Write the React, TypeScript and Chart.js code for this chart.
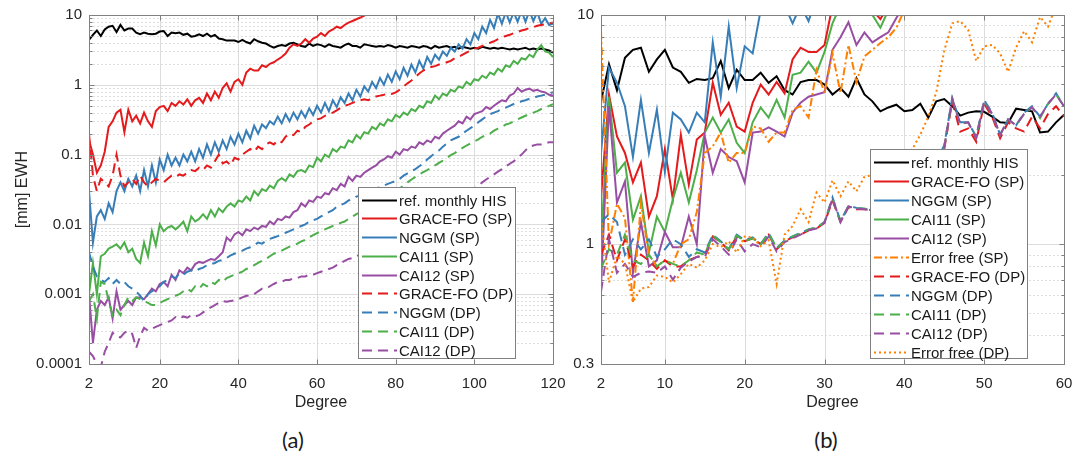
import React, { useEffect, useRef } from 'react';
import { Chart, registerables } from 'chart.js';

Chart.register(...registerables);

const FONT = '"Liberation Sans", Arial, Helvetica, sans-serif';
Chart.defaults.font.family = FONT;

// ---------------- Panel (a) data: degree 2..120 ----------------
const A_START_DEGREE = 2;
const A_X_TICKS = [2, 20, 40, 60, 80, 100, 120];
const A_Y_TICKS = [0.0001, 0.001, 0.01, 0.1, 1, 10];
const A_Y_LABELS = ['0.0001', '0.001', '0.01', '0.1', '1', '10'];

const A_REF = [
  4.4, 5.2, 6.0, 5.0, 6.2, 6.8, 7.0, 5.7, 7.2, 6.0,
  6.4, 6.4, 5.6, 5.3, 5.6, 5.4, 5.3, 5.4, 5.8, 5.9,
  5.0, 5.6, 5.5, 5.6, 5.2, 5.4, 4.9, 5.0, 5.3, 5.0,
  5.4, 4.9, 5.2, 4.6, 4.5, 4.3, 4.3, 4.3, 4.1, 4.4,
  4.1, 3.9, 4.5, 4.2, 4.0, 3.9, 3.6, 3.4, 3.6, 3.7,
  3.6, 3.9, 4.0, 3.8, 3.6, 3.5, 3.9, 3.6, 3.8, 3.7,
  3.5, 3.8, 3.6, 3.5, 3.4, 3.7, 3.9, 3.6, 3.6, 3.4,
  3.8, 3.7, 3.6, 3.5, 3.6, 3.5, 3.7, 3.6, 3.4, 3.6,
  3.5, 3.4, 3.6, 3.5, 3.4, 3.6, 3.5, 3.3, 3.6, 3.4,
  3.5, 3.6, 3.4, 3.5, 3.3, 3.5, 3.4, 3.3, 3.4, 3.3,
  3.5, 3.4, 3.3, 3.4, 3.3, 3.4, 3.3, 3.2, 3.3, 3.2,
  3.3, 3.4, 3.2, 3.3, 3.2, 3.3, 3.2, 3.1, 2.9,
];
const A_GRACE_SP = [
  0.16, 0.1, 0.055, 0.07, 0.11, 0.25, 0.3, 0.4, 0.44, 0.21,
  0.44, 0.3, 0.36, 0.28, 0.4, 0.3, 0.25, 0.42, 0.48, 0.5,
  0.42, 0.55, 0.5, 0.58, 0.52, 0.62, 0.5, 0.6, 0.65, 0.55,
  0.75, 0.6, 0.8, 0.65, 0.9, 1.05, 0.8, 1.1, 1.2, 1.0,
  1.5, 1.7, 1.6, 1.6, 1.9, 1.8, 2.0, 2.1, 2.3, 2.5,
  2.8, 3.4, 3.8, 3.6, 3.9, 4.5, 4.0, 4.6, 4.9, 5.5,
  5.0, 5.8, 6.2, 6.8, 6.5, 7.2, 7.8, 8.2, 8.7, 9.2,
  9.8, 10.5, 11.2,
];
const A_NGGM_SP = [
  0.03, 0.0055, 0.013, 0.016, 0.012, 0.02, 0.015, 0.03, 0.04, 0.03,
  0.045, 0.035, 0.05, 0.03, 0.06, 0.035, 0.07, 0.04, 0.085, 0.06,
  0.1, 0.07, 0.09, 0.07, 0.1, 0.08, 0.11, 0.08, 0.12, 0.09,
  0.14, 0.1, 0.15, 0.11, 0.16, 0.12, 0.18, 0.14, 0.2, 0.15,
  0.22, 0.17, 0.26, 0.2, 0.27, 0.24, 0.3, 0.27, 0.35, 0.28,
  0.38, 0.3, 0.4, 0.32, 0.42, 0.34, 0.46, 0.37, 0.5, 0.4,
  0.55, 0.42, 0.6, 0.48, 0.66, 0.55, 0.75, 0.6, 0.85, 0.68,
  0.95, 0.8, 1.1, 0.9, 1.25, 1.0, 1.4, 1.1, 1.55, 1.2,
  1.75, 1.35, 1.95, 1.5, 2.2, 1.7, 2.5, 2.0, 2.7, 2.3,
  3.0, 2.6, 3.4, 3.0, 3.8, 3.3, 4.5, 3.8, 5.5, 4.5,
  6.8, 5.5, 8.5, 6.5, 10.5, 7.5, 11, 7.8, 11, 8,
  11.5, 8, 11.5, 8.2, 11, 7.5, 9, 7.2, 7.5,
];
const A_CAI11_SP = [
  0.001, 0.0028, 0.001, 0.0035, 0.0038, 0.0045, 0.0048, 0.0052, 0.0045, 0.0055,
  0.004, 0.0045, 0.0032, 0.0028, 0.0055, 0.0035, 0.008, 0.005, 0.01, 0.008,
  0.009, 0.0095, 0.0085, 0.0095, 0.011, 0.008, 0.013, 0.011, 0.012, 0.014,
  0.012, 0.016, 0.013, 0.017, 0.015, 0.018, 0.02, 0.018, 0.022, 0.021,
  0.025, 0.022, 0.03, 0.026, 0.032, 0.03, 0.036, 0.033, 0.042, 0.046,
  0.042, 0.052, 0.048, 0.058, 0.06, 0.056, 0.07, 0.066, 0.09, 0.08,
  0.1, 0.092, 0.12, 0.11, 0.13, 0.125, 0.16, 0.15, 0.19, 0.17,
  0.21, 0.2, 0.25, 0.23, 0.28, 0.26, 0.32, 0.3, 0.37, 0.34,
  0.4, 0.37, 0.45, 0.42, 0.5, 0.47, 0.58, 0.55, 0.7, 0.62,
  0.75, 0.7, 0.85, 0.8, 0.95, 0.9, 1.1, 1.0, 1.2, 1.15,
  1.35, 1.25, 1.5, 1.4, 1.7, 1.55, 1.9, 1.8, 2.2, 2.0,
  2.4, 2.3, 2.7, 2.5, 3.2, 3.7, 3.0, 2.9, 2.5,
];
const A_CAI12_SP = [
  0.001, 0.0002, 0.0006, 0.0008, 0.0007, 0.0009, 0.00045, 0.0011, 0.0006, 0.0007,
  0.0008, 0.0007, 0.0009, 0.0009, 0.00085, 0.001, 0.0012, 0.0011, 0.0014, 0.0015,
  0.0013, 0.0019, 0.0016, 0.0022, 0.002, 0.0024, 0.0022, 0.0027, 0.0029, 0.0028,
  0.003, 0.0032, 0.0031, 0.0035, 0.004, 0.0065, 0.0058, 0.0072, 0.0078, 0.007,
  0.0085, 0.008, 0.009, 0.0085, 0.0095, 0.0092, 0.011, 0.01, 0.012, 0.0115,
  0.013, 0.0125, 0.015, 0.016, 0.02, 0.018, 0.022, 0.021, 0.025, 0.024,
  0.028, 0.027, 0.033, 0.031, 0.038, 0.035, 0.048, 0.042, 0.05, 0.048,
  0.055, 0.06, 0.065, 0.07, 0.08, 0.085, 0.095, 0.09, 0.11, 0.1,
  0.12, 0.115, 0.13, 0.125, 0.15, 0.14, 0.16, 0.15, 0.18, 0.17,
  0.2, 0.22, 0.24, 0.26, 0.3, 0.28, 0.35, 0.32, 0.38, 0.4,
  0.42, 0.48, 0.45, 0.5, 0.55, 0.6, 0.58, 0.7, 0.75, 0.9,
  0.8, 0.85, 0.88, 0.82, 0.85, 0.8, 0.78, 0.72, 0.7,
];
const A_GRACE_DP = [
  0.2, 0.05, 0.03, 0.045, 0.04, 0.035, 0.05, 0.1, 0.05, 0.035,
  0.04, 0.045, 0.038, 0.05, 0.04, 0.035, 0.04, 0.045, 0.042, 0.04,
  0.045, 0.05, 0.048, 0.052, 0.05, 0.055, 0.06, 0.058, 0.065, 0.06,
  0.07, 0.065, 0.08, 0.1, 0.075, 0.08, 0.07, 0.09, 0.085, 0.1,
  0.11, 0.12, 0.11, 0.13, 0.12, 0.14, 0.15, 0.14, 0.16, 0.15,
  0.18, 0.2, 0.19, 0.22, 0.21, 0.25, 0.27, 0.3, 0.32, 0.33,
  0.36, 0.38, 0.4, 0.43, 0.47, 0.5, 0.52, 0.55, 0.58, 0.6,
  0.62, 0.6, 0.65, 0.68, 0.7, 0.72, 0.75, 0.74, 0.78, 0.85,
  0.95, 1.05, 1.15, 1.3, 1.45, 1.6, 1.7, 1.8, 1.85, 1.95,
  2.0, 2.1, 2.2, 2.4, 2.5, 2.7, 2.9, 3.1, 3.3, 3.4,
  3.6, 3.8, 4.0, 4.2, 4.5, 4.8, 5.0, 5.2, 5.5, 5.7,
  6.0, 6.2, 6.5, 6.7, 7.0, 7.2, 7.4, 7.6, 7.8,
];
const A_NGGM_DP = [
  0.004, 0.0025, 0.0018, 0.0016, 0.0015, 0.0017, 0.0014, 0.0016, 0.0014, 0.0015,
  0.0013, 0.0012, 0.0011, 0.00095, 0.0008, 0.001, 0.0011, 0.0012, 0.0013, 0.0015,
  0.0016, 0.0018, 0.0017, 0.002, 0.0019, 0.0021, 0.0022, 0.0021, 0.0023, 0.0024,
  0.0026, 0.0027, 0.0028, 0.003, 0.0031, 0.0033, 0.0036, 0.0038, 0.004, 0.0042,
  0.0045, 0.0047, 0.005, 0.0055, 0.0053, 0.0058, 0.0062, 0.0065, 0.0068, 0.0072,
  0.0076, 0.008, 0.0085, 0.009, 0.0095, 0.01, 0.011, 0.0115, 0.012, 0.013,
  0.014, 0.015, 0.016, 0.018, 0.019, 0.02, 0.022, 0.023, 0.025, 0.026,
  0.028, 0.03, 0.031, 0.033, 0.034, 0.036, 0.038, 0.04, 0.042, 0.045,
  0.05, 0.054, 0.058, 0.062, 0.068, 0.075, 0.085, 0.095, 0.105, 0.115,
  0.13, 0.145, 0.16, 0.17, 0.18, 0.2, 0.22, 0.24, 0.26, 0.29,
  0.32, 0.35, 0.38, 0.4, 0.42, 0.45, 0.47, 0.5, 0.53, 0.55,
  0.58, 0.6, 0.63, 0.65, 0.68, 0.7, 0.72, 0.75, 0.78,
];
const A_CAI11_DP = [
  0.0008, 0.001, 0.00045, 0.0015, 0.0014, 0.0008, 0.0005, 0.0006, 0.0005, 0.0007,
  0.0009, 0.0008, 0.0009, 0.00085, 0.0008, 0.00075, 0.0007, 0.0007, 0.00075, 0.0008,
  0.00085, 0.0009, 0.00095, 0.001, 0.0011, 0.0012, 0.0011, 0.0013, 0.0012, 0.0014,
  0.0013, 0.0015, 0.0014, 0.0016, 0.0015, 0.0017, 0.0018, 0.0019, 0.002, 0.0021,
  0.0023, 0.0024, 0.0026, 0.0028, 0.003, 0.0032, 0.0035, 0.0038, 0.004, 0.0042,
  0.0045, 0.0048, 0.005, 0.0053, 0.0057, 0.006, 0.0065, 0.007, 0.0075, 0.008,
  0.0085, 0.009, 0.0095, 0.01, 0.0105, 0.011, 0.012, 0.013, 0.014, 0.015,
  0.016, 0.017, 0.018, 0.02, 0.022, 0.024, 0.026, 0.028, 0.03, 0.033,
  0.036, 0.04, 0.044, 0.048, 0.052, 0.056, 0.06, 0.065, 0.07, 0.076,
  0.082, 0.09, 0.098, 0.105, 0.115, 0.125, 0.135, 0.145, 0.155, 0.165,
  0.18, 0.19, 0.2, 0.22, 0.235, 0.25, 0.27, 0.28, 0.3, 0.32,
  0.34, 0.36, 0.38, 0.4, 0.42, 0.45, 0.47, 0.5, 0.53,
];
const A_CAI12_DP = [
  0.00015, 0.00013, 0.0001, 0.00009, 0.00015, 0.0002, 0.00028, 0.00025, 0.00024, 0.00028,
  0.0003, 0.00027, 0.00017, 0.00025, 0.00033, 0.0003, 0.00032, 0.00034, 0.00036, 0.00038,
  0.0004, 0.00042, 0.00047, 0.00044, 0.00048, 0.00046, 0.0005, 0.00048, 0.0005, 0.00055,
  0.0006, 0.00065, 0.0007, 0.00075, 0.0008, 0.00078, 0.0008, 0.00082, 0.00085, 0.0009,
  0.00095, 0.00095, 0.001, 0.0011, 0.0012, 0.0012, 0.0013, 0.0014, 0.0015, 0.0015,
  0.0016, 0.0016, 0.0017, 0.0017, 0.0018, 0.0018, 0.0019, 0.0019, 0.002, 0.0021,
  0.0022, 0.0023, 0.0024, 0.0026, 0.0028, 0.003, 0.0032, 0.0033, 0.0035, 0.0037,
  0.004, 0.0042, 0.0045, 0.0048, 0.005, 0.0055, 0.0058, 0.0062, 0.0065, 0.007,
  0.0075, 0.008, 0.0088, 0.0095, 0.0105, 0.011, 0.012, 0.013, 0.014, 0.015,
  0.016, 0.018, 0.02, 0.021, 0.023, 0.025, 0.028, 0.03, 0.033, 0.036,
  0.04, 0.044, 0.048, 0.052, 0.057, 0.062, 0.068, 0.074, 0.08, 0.09,
  0.1, 0.115, 0.13, 0.135, 0.14, 0.14, 0.145, 0.15, 0.15,
];

// ---------------- Panel (b) data: degree 2..60 ----------------
const B_START_DEGREE = 2;
const B_X_TICKS = [2, 10, 20, 30, 40, 50, 60];
const B_Y_TICKS = [0.3, 1, 10];
const B_Y_LABELS = ['0.3', '1', '10'];

const B_REF = [
  4.2, 6.1, 4.7, 6.5, 7.05, 7.2, 5.65, 6.4, 7.05, 5.9,
  5.65, 5.06, 5.26, 5.2, 5.3, 6.3, 4.8, 5.77, 5.2, 5.2,
  5.6, 5.06, 5.4, 4.7, 4.5, 5.1, 5.2, 5.2, 4.97, 4.5,
  4.8, 4.4, 5.3, 4.5, 4.2, 3.8, 3.95, 4.06, 3.8, 3.85,
  4.1, 3.57, 4.2, 4.3, 4.0, 3.64, 3.75, 3.8, 3.78, 3.6,
  3.4, 3.38, 3.9, 3.85, 3.8, 3.07, 3.1, 3.4, 3.67,
];
const B_GRACE_SP = [
  1.6, 4.5, 2.95, 2.5, 1.86, 2.27, 1.32, 1.62, 2.6, 1.57,
  3.0, 1.82, 2.86, 3.07, 5.06, 3.67, 4.14, 3.26, 3.1, 4.14,
  4.97, 4.5, 5.1, 4.55, 6.4, 7.2, 6.9, 6.9, 7.4, 11,
  12, 12.5, 11, 11.5, 10.5, 9.6, 11, 12.5, 14,
];
const B_NGGM_SP = [
  2.5, 5.9, 5.06, 4.0, 2.4, 4.26, 2.5, 3.86, 2.07, 3.75,
  3.5, 3.07, 3.75, 3.4, 7.6, 4.4, 8.9, 4.8, 7.3, 6.8,
  10.5, 11, 10.5, 11, 9.2, 11, 9.4, 12, 14, 17,
];
const B_CAI11_SP = [
  1.0, 4.4, 2.05, 2.27, 1.28, 1.62, 0.92, 1.32, 1.13, 1.57,
  2.05, 1.52, 2.1, 3.07, 3.57, 3.07, 3.5, 2.77, 2.5, 3.4,
  3.95, 3.57, 4.26, 3.57, 5.48, 5.6, 6.25, 5.6, 6.9, 9.2,
  11, 12, 11, 11.5, 10, 8.8, 10.5, 12, 14,
];
const B_CAI12_SP = [
  0.65, 4.0, 1.52, 1.88, 0.75, 1.25, 0.8, 0.85, 1.13, 0.97,
  0.97, 1.32, 1.0, 2.95, 2.05, 2.6, 2.4, 2.3, 1.86, 3.07,
  3.1, 3.23, 3.1, 2.95, 3.75, 4.14, 4.4, 4.5, 4.6, 7.05,
  8.0, 9.3, 7.4, 8.4, 7.6, 8.0, 8.4, 9.7, 11, 13,
];
const B_ERRFREE_SP = [
  8.5, 1.0, 1.5, 1.3, 0.56, 1.5, 0.9, 0.8, 0.85, 0.82,
  1.0, 1.05, 1.38, 2.5, 2.67, 3.07, 2.27, 2.5, 2.5, 3.26,
  3.2, 2.8, 3.07, 3.07, 3.86, 4.0, 3.57, 5.77, 4.57, 6.8,
  4.57, 7.4, 5.1, 6.6, 7.05, 7.55, 8.0, 8.8, 10.5, 12,
];
const B_GRACE_DP = [
  0.9, 1.1, 0.85, 1.05, 0.8, 0.9, 0.85, 0.78, 0.85, 0.8,
  0.8, 0.85, 0.88, 0.9, 1.08, 1.02, 0.94, 1.08, 1.03, 1.06,
  1.0, 1.1, 0.95, 1.03, 1.07, 1.1, 1.15, 1.17, 1.24, 1.55,
  1.25, 1.45, 1.42, 1.42, 1.4, 1.45, 1.55, 1.6, 1.7, 1.8,
  1.9, 2.1, 2.3, 2.6, 4.2, 3.1, 3.2, 2.8, 4.1, 3.6,
  2.9, 3.4, 3.2, 3.1, 3.6, 3.2, 3.7, 4.0, 3.6,
];
const B_NGGM_DP = [
  1.25, 1.35, 1.25, 0.9, 1.05, 0.95, 1.05, 0.88, 0.95, 1.05,
  1.0, 0.88, 0.95, 0.92, 1.1, 1.03, 0.95, 1.1, 1.04, 1.07,
  1.0, 1.12, 0.96, 1.04, 1.08, 1.12, 1.16, 1.18, 1.25, 1.6,
  1.26, 1.47, 1.44, 1.43, 1.4, 1.45, 1.55, 1.6, 1.7, 1.8,
  1.9, 2.1, 2.3, 2.7, 4.35, 3.4, 3.4, 2.95, 4.25, 3.75,
  3.0, 3.5, 3.3, 3.75, 4.0, 3.6, 4.1, 4.55, 4.0,
];
const B_CAI11_DP = [
  0.78, 0.95, 0.9, 1.1, 0.85, 0.82, 0.9, 0.8, 0.85, 0.82,
  0.8, 0.85, 0.92, 0.9, 1.09, 1.02, 0.95, 1.09, 1.03, 1.06,
  1.0, 1.11, 0.96, 1.03, 1.08, 1.11, 1.16, 1.18, 1.25, 1.58,
  1.26, 1.46, 1.43, 1.43, 1.4, 1.45, 1.55, 1.6, 1.7, 1.8,
  1.9, 2.1, 2.3, 2.65, 4.3, 3.35, 3.4, 2.9, 4.2, 3.7,
  3.0, 3.5, 3.3, 3.7, 3.95, 3.55, 4.1, 4.5, 4.0,
];
const B_CAI12_DP = [
  0.62, 1.05, 0.75, 0.82, 0.72, 0.75, 0.76, 0.75, 0.8, 0.7,
  0.79, 0.84, 0.88, 0.88, 1.05, 0.98, 0.9, 1.05, 0.93, 1.0,
  0.97, 1.08, 0.93, 1.02, 1.06, 1.1, 1.15, 1.17, 1.24, 1.58,
  1.25, 1.46, 1.43, 1.42, 1.4, 1.45, 1.55, 1.6, 1.7, 1.8,
  1.9, 2.1, 2.3, 2.65, 4.3, 3.35, 3.4, 2.9, 4.2, 3.7,
  3.0, 3.5, 3.3, 3.7, 3.95, 3.6, 4.1, 4.5, 4.0,
];
const B_ERRFREE_DP = [
  1.3, 0.68, 0.89, 0.82, 0.56, 0.64, 0.65, 0.73, 0.72, 0.68,
  0.74, 0.82, 0.79, 0.85, 1.0, 0.97, 1.03, 0.92, 1.08, 1.07,
  0.98, 1.04, 0.67, 1.1, 1.2, 1.42, 1.25, 1.68, 1.52, 1.9,
  1.62, 1.88, 1.7, 1.97, 2.0, 2.1, 2.2, 2.3, 2.45, 2.6,
  3.0, 3.6, 4.6, 7.0, 9.2, 9.4, 8.6, 6.3, 7.3, 7.4,
  6.8, 5.65, 7.2, 8.5, 7.6, 9.8, 8.9, 11, 12,
];

// ---------------- styles ----------------
const C_BLACK = '#000000';
const C_RED = '#e41a1c';
const C_BLUE = '#377eb8';
const C_GREEN = '#4daf4a';
const C_PURPLE = '#984ea3';
const C_ORANGE = '#ff7f00';
const SOLID: number[] = [];
const DASHED = [10, 6];
const DASHDOT = [8, 3, 2, 3];
const DOTTED = [2, 3];
const TEXT_COLOR = '#262626';
const AXIS_COLOR = '#808080';

type Series = { label: string; values: number[]; color: string; dash: number[] };

const A_SERIES: Series[] = [
  { label: 'ref. monthly HIS', values: A_REF, color: C_BLACK, dash: SOLID },
  { label: 'GRACE-FO (SP)', values: A_GRACE_SP, color: C_RED, dash: SOLID },
  { label: 'NGGM (SP)', values: A_NGGM_SP, color: C_BLUE, dash: SOLID },
  { label: 'CAI11 (SP)', values: A_CAI11_SP, color: C_GREEN, dash: SOLID },
  { label: 'CAI12 (SP)', values: A_CAI12_SP, color: C_PURPLE, dash: SOLID },
  { label: 'GRACE-FO (DP)', values: A_GRACE_DP, color: C_RED, dash: DASHED },
  { label: 'NGGM (DP)', values: A_NGGM_DP, color: C_BLUE, dash: DASHED },
  { label: 'CAI11 (DP)', values: A_CAI11_DP, color: C_GREEN, dash: DASHED },
  { label: 'CAI12 (DP)', values: A_CAI12_DP, color: C_PURPLE, dash: DASHED },
];

const B_SERIES: Series[] = [
  { label: 'ref. monthly HIS', values: B_REF, color: C_BLACK, dash: SOLID },
  { label: 'GRACE-FO (SP)', values: B_GRACE_SP, color: C_RED, dash: SOLID },
  { label: 'NGGM (SP)', values: B_NGGM_SP, color: C_BLUE, dash: SOLID },
  { label: 'CAI11 (SP)', values: B_CAI11_SP, color: C_GREEN, dash: SOLID },
  { label: 'CAI12 (SP)', values: B_CAI12_SP, color: C_PURPLE, dash: SOLID },
  { label: 'Error free (SP)', values: B_ERRFREE_SP, color: C_ORANGE, dash: DASHDOT },
  { label: 'GRACE-FO (DP)', values: B_GRACE_DP, color: C_RED, dash: DASHED },
  { label: 'NGGM (DP)', values: B_NGGM_DP, color: C_BLUE, dash: DASHED },
  { label: 'CAI11 (DP)', values: B_CAI11_DP, color: C_GREEN, dash: DASHED },
  { label: 'CAI12 (DP)', values: B_CAI12_DP, color: C_PURPLE, dash: DASHED },
  { label: 'Error free (DP)', values: B_ERRFREE_DP, color: C_ORANGE, dash: DOTTED },
];

type PanelCfg = {
  id: string;
  series: Series[];
  start: number;
  xMin: number;
  xMax: number;
  xTicks: number[];
  yMin: number;
  yMax: number;
  yTicks: number[];
  yLabels: string[];
  yTitle: string | null;
  yAxisWidth: number;
  rightPad: number;
  legend: { left: number; top: number; right: number; bottom: number; first: number; row: number };
};

function minorLogs(min: number, max: number): number[] {
  const out: number[] = [];
  let d = Math.pow(10, Math.floor(Math.log10(min)));
  while (d < max) {
    for (let k = 2; k <= 9; k++) {
      const v = d * k;
      if (v > min * 1.0001 && v < max * 0.9999) out.push(v);
    }
    d *= 10;
  }
  return out;
}

function makePlugin(cfg: PanelCfg) {
  const minors = minorLogs(cfg.yMin, cfg.yMax);
  return {
    id: 'panel-' + cfg.id,
    beforeDatasetsDraw(chart: any) {
      const { ctx, chartArea: a, scales } = chart;
      const xs = scales.x;
      const ys = scales.y;
      ctx.save();
      ctx.lineWidth = 1;
      ctx.strokeStyle = '#dedede';
      ctx.setLineDash([2, 2]);
      minors.forEach((v) => {
        const p = Math.round(ys.getPixelForValue(v)) + 0.5;
        ctx.beginPath();
        ctx.moveTo(a.left, p);
        ctx.lineTo(a.right, p);
        ctx.stroke();
      });
      ctx.setLineDash([]);
      ctx.strokeStyle = '#dcdcdc';
      cfg.yTicks.forEach((v) => {
        const p = Math.round(ys.getPixelForValue(v)) + 0.5;
        ctx.beginPath();
        ctx.moveTo(a.left, p);
        ctx.lineTo(a.right, p);
        ctx.stroke();
      });
      cfg.xTicks.forEach((v) => {
        const p = Math.round(xs.getPixelForValue(v)) + 0.5;
        ctx.beginPath();
        ctx.moveTo(p, a.top);
        ctx.lineTo(p, a.bottom);
        ctx.stroke();
      });
      ctx.restore();
    },
    afterDatasetsDraw(chart: any) {
      const { ctx, chartArea: a, scales } = chart;
      const xs = scales.x;
      const ys = scales.y;
      ctx.save();
      ctx.strokeStyle = AXIS_COLOR;
      ctx.lineWidth = 1;
      ctx.setLineDash([]);
      const L = Math.round(a.left) + 0.5;
      const R = Math.round(a.right) + 0.5;
      const T = Math.round(a.top) + 0.5;
      const B = Math.round(a.bottom) + 0.5;
      ctx.strokeRect(L, T, R - L, B - T);
      const tick = (x1: number, y1: number, x2: number, y2: number) => {
        ctx.beginPath();
        ctx.moveTo(x1, y1);
        ctx.lineTo(x2, y2);
        ctx.stroke();
      };
      cfg.xTicks.forEach((v) => {
        const p = Math.round(xs.getPixelForValue(v)) + 0.5;
        tick(p, B, p, B - 5);
        tick(p, T, p, T + 5);
      });
      cfg.yTicks.forEach((v) => {
        const p = Math.round(ys.getPixelForValue(v)) + 0.5;
        tick(L, p, L + 5, p);
        tick(R, p, R - 5, p);
      });
      minors.forEach((v) => {
        const p = Math.round(ys.getPixelForValue(v)) + 0.5;
        tick(L, p, L + 3, p);
        tick(R, p, R - 3, p);
      });
      ctx.restore();
    },
    afterDraw(chart: any) {
      const { ctx } = chart;
      const g = cfg.legend;
      ctx.save();
      ctx.fillStyle = '#ffffff';
      ctx.fillRect(g.left, g.top, g.right - g.left, g.bottom - g.top);
      ctx.strokeStyle = AXIS_COLOR;
      ctx.lineWidth = 1;
      ctx.setLineDash([]);
      ctx.strokeRect(g.left + 0.5, g.top + 0.5, g.right - g.left, g.bottom - g.top);
      ctx.font = `15px ${FONT}`;
      ctx.textAlign = 'left';
      ctx.textBaseline = 'middle';
      cfg.series.forEach((s, i) => {
        const yy = Math.round(g.top + g.first + i * g.row) + 0.5;
        ctx.strokeStyle = s.color;
        ctx.lineWidth = 2;
        ctx.setLineDash(s.dash);
        ctx.beginPath();
        ctx.moveTo(g.left + 4, yy);
        ctx.lineTo(g.left + 39, yy);
        ctx.stroke();
        ctx.setLineDash([]);
        ctx.fillStyle = '#1a1a1a';
        ctx.fillText(s.label, g.left + 41, yy + 1);
      });
      ctx.restore();
    },
  };
}

function makeConfig(cfg: PanelCfg): any {
  const n = cfg.series.length;
  const datasets = cfg.series.map((s, i) => ({
    label: s.label,
    data: s.values.map((v, k) => ({ x: cfg.start + k, y: v })),
    borderColor: s.color,
    backgroundColor: s.color,
    borderWidth: 2,
    borderDash: s.dash,
    pointRadius: 0,
    pointHoverRadius: 0,
    fill: false,
    tension: 0,
    order: n - i,
  }));
  return {
    type: 'line',
    data: { datasets },
    plugins: [makePlugin(cfg)],
    options: {
      responsive: false,
      animation: false,
      devicePixelRatio: 1,
      events: [],
      layout: { padding: { top: 15, right: cfg.rightPad, left: 0, bottom: 0 } },
      plugins: { legend: { display: false }, tooltip: { enabled: false } },
      scales: {
        x: {
          type: 'linear',
          min: cfg.xMin,
          max: cfg.xMax,
          grid: { display: false, drawTicks: false },
          border: { display: false },
          ticks: {
            autoSkip: false,
            maxRotation: 0,
            padding: 11,
            color: TEXT_COLOR,
            font: { size: 15, family: FONT },
            callback: (v: any) => String(v),
          },
          title: {
            display: true,
            text: 'Degree',
            color: TEXT_COLOR,
            font: { size: 16, family: FONT },
            padding: { top: 0, bottom: 8 },
          },
          afterBuildTicks: (s: any) => {
            s.ticks = cfg.xTicks.map((v) => ({ value: v }));
          },
          afterFit: (s: any) => {
            s.height = 56;
            s.paddingLeft = 0;
            s.paddingRight = 0;
          },
        },
        y: {
          type: 'logarithmic',
          min: cfg.yMin,
          max: cfg.yMax,
          grid: { display: false, drawTicks: false },
          border: { display: false },
          ticks: {
            autoSkip: false,
            padding: 7,
            color: TEXT_COLOR,
            font: { size: 15, family: FONT },
            callback: (_v: any, i: number) => cfg.yLabels[i] ?? '',
          },
          title: {
            display: !!cfg.yTitle,
            text: cfg.yTitle || '',
            color: TEXT_COLOR,
            font: { size: 16, family: FONT },
            padding: { top: 13, bottom: 0 },
          },
          afterBuildTicks: (s: any) => {
            s.ticks = cfg.yTicks.map((v) => ({ value: v }));
          },
          afterFit: (s: any) => {
            s.width = cfg.yAxisWidth;
            s.paddingTop = 0;
            s.paddingBottom = 0;
          },
        },
      },
    },
  };
}

const PANEL_A: PanelCfg = {
  id: 'a',
  series: A_SERIES,
  start: A_START_DEGREE,
  xMin: 2,
  xMax: 120,
  xTicks: A_X_TICKS,
  yMin: 0.0001,
  yMax: 10,
  yTicks: A_Y_TICKS,
  yLabels: A_Y_LABELS,
  yTitle: '[mm] EWH',
  yAxisWidth: 89,
  rightPad: 12,
  legend: { left: 358, top: 187, right: 515, bottom: 358, first: 12.5, row: 18.75 },
};

const PANEL_B: PanelCfg = {
  id: 'b',
  series: B_SERIES,
  start: B_START_DEGREE,
  xMin: 2,
  xMax: 60,
  xTicks: B_X_TICKS,
  yMin: 0.3,
  yMax: 10,
  yTicks: B_Y_TICKS,
  yLabels: B_Y_LABELS,
  yTitle: null,
  yAxisWidth: 41,
  rightPad: 23,
  legend: { left: 310, top: 149, right: 467, bottom: 358, first: 13, row: 19 },
};

export default function App() {
  const refA = useRef<HTMLCanvasElement>(null);
  const refB = useRef<HTMLCanvasElement>(null);

  useEffect(() => {
    const a = new Chart(refA.current as HTMLCanvasElement, makeConfig(PANEL_A));
    const b = new Chart(refB.current as HTMLCanvasElement, makeConfig(PANEL_B));
    return () => {
      a.destroy();
      b.destroy();
    };
  }, []);

  const caption: React.CSSProperties = {
    position: 'absolute',
    top: 427,
    width: 60,
    textAlign: 'center',
    fontFamily: 'Lato, "Open Sans", sans-serif',
    fontSize: 22,
    lineHeight: '26px',
    color: '#1a1a1a',
  };

  return (
    <div
      style={{
        position: 'absolute',
        left: 0,
        top: 0,
        width: 1087,
        height: 458,
        background: '#ffffff',
        overflow: 'hidden',
      }}
    >
      <canvas ref={refA} width={565} height={420} style={{ position: 'absolute', left: 0, top: 0 }} />
      <canvas ref={refB} width={527} height={420} style={{ position: 'absolute', left: 560, top: 0 }} />
      <div style={{ ...caption, left: 263 }}>(a)</div>
      <div style={{ ...caption, left: 796 }}>(b)</div>
    </div>
  );
}
